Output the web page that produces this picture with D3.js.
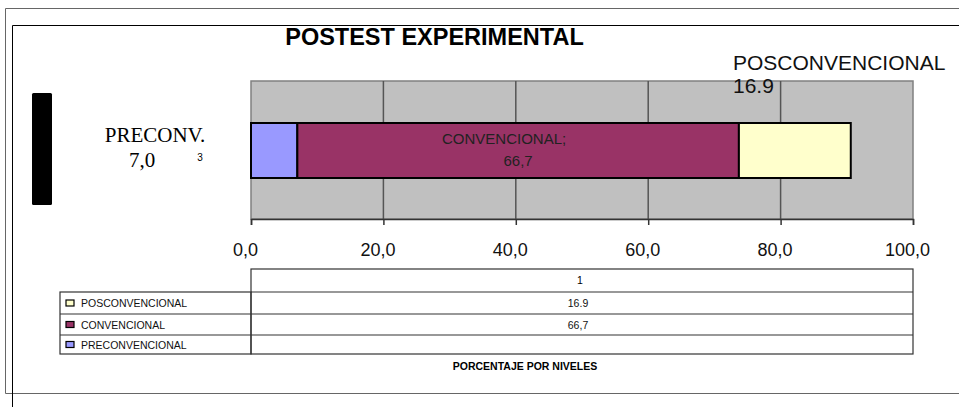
<!DOCTYPE html>
<html><head><meta charset="utf-8">
<script src="https://cdn.jsdelivr.net/npm/d3@7"></script>
<style>html,body{margin:0;padding:0;background:#fff;}svg{display:block;}</style>
</head><body><svg id="c" width="959" height="407"></svg>
<script>
const categories = ["PRECONVENCIONAL", "CONVENCIONAL", "POSCONVENCIONAL"];
const values = [7.0, 66.7, 16.9];
const colors = ["#9999FF", "#993366", "#FFFFCC"];
const tickValues = [0, 20, 40, 60, 80, 100];
const tableValues = ["", "66,7", "16.9"];
const tableHeader = "1";
const title = "POSTEST EXPERIMENTAL";
const axisTitle = "PORCENTAJE POR NIVELES";

const svg = d3.select("#c");
const fmt = d => d3.format(".1f")(d).replace(".", ",");

// frames
svg.append("path").attr("d","M959,8.5H5.5V393.5H959").attr("fill","none").attr("stroke","#666").attr("stroke-width",1);
svg.append("path").attr("d","M959,25.5H12.5V407").attr("fill","none").attr("stroke","#000").attr("stroke-width",1);

svg.append("text").attr("x",434.5).attr("y",45).attr("text-anchor","middle")
  .attr("font-family","Liberation Sans, Arial, sans-serif").attr("font-weight","bold").attr("font-size",23.5).text(title);

const x = d3.scaleLinear().domain([0,100]).range([251,913]);
const plotTop = 81, plotBot = 219;
svg.append("rect").attr("x",x(0)).attr("y",plotTop).attr("width",x(100)-x(0)).attr("height",plotBot-plotTop)
  .attr("fill","#C0C0C0").attr("stroke","#808080").attr("stroke-width",1.5);
svg.append("g").selectAll("line").data(tickValues.slice(1,-1)).join("line")
  .attr("x1",d=>x(d)).attr("x2",d=>x(d)).attr("y1",plotTop).attr("y2",plotBot)
  .attr("stroke","#555").attr("stroke-width",1.5);

const ax = svg.append("g").attr("transform",`translate(0,${plotBot})`)
  .call(d3.axisBottom(x).tickValues(tickValues).tickFormat(fmt).tickSize(6).tickPadding(18));
ax.select(".domain").attr("stroke","#333").attr("stroke-width",1.5);
ax.selectAll(".tick line").attr("stroke","#333").attr("stroke-width",1.5);
ax.selectAll(".tick text").attr("font-family","Liberation Sans, Arial, sans-serif").attr("font-size",18)
  .attr("fill","#111").attr("dx",-6);

// stacked bar
let cum = 0;
const segs = values.map((v,i)=>{const s={cat:categories[i],v,x0:cum,x1:cum+v,color:colors[i]};cum+=v;return s;});
const barTop = 123, barH = 55;
svg.append("g").selectAll("rect").data(segs).join("rect")
  .attr("x",d=>x(d.x0)).attr("y",barTop).attr("width",d=>x(d.x1)-x(d.x0)).attr("height",barH)
  .attr("fill",d=>d.color).attr("stroke","#000").attr("stroke-width",2);

// labels
const conv = segs[1];
const cmid = (x(conv.x0)+x(conv.x1))/2;
svg.append("text").attr("x",cmid-14).attr("y",144).attr("text-anchor","middle")
  .attr("font-family","Liberation Sans, Arial, sans-serif").attr("font-size",15).attr("fill","#222").text(conv.cat+";");
svg.append("text").attr("x",cmid).attr("y",166).attr("text-anchor","middle")
  .attr("font-family","Liberation Sans, Arial, sans-serif").attr("font-size",15).attr("fill","#222").text(fmt(conv.v));

svg.append("text").attr("x",155).attr("y",142).attr("text-anchor","middle")
  .attr("font-family","Liberation Serif, Times New Roman, serif").attr("font-size",21).text("PRECONV.");
svg.append("text").attr("x",142).attr("y",167).attr("text-anchor","middle")
  .attr("font-family","Liberation Serif, Times New Roman, serif").attr("font-size",21).text(fmt(values[0]));
svg.append("text").attr("x",200).attr("y",161).attr("text-anchor","middle")
  .attr("font-family","Liberation Sans, Arial, sans-serif").attr("font-size",10).text("3");

svg.append("text").attr("x",733).attr("y",70)
  .attr("font-family","Liberation Sans, Arial, sans-serif").attr("font-size",21).attr("fill","#111").text(categories[2]);
svg.append("text").attr("x",733).attr("y",93)
  .attr("font-family","Liberation Sans, Arial, sans-serif").attr("font-size",21).attr("fill","#111").text(String(values[2]));

// black block
svg.append("rect").attr("x",32).attr("y",93).attr("width",20).attr("height",112).attr("rx",1.5).attr("fill","#000");

// data table
const tTop = 269, rowH = [23,22,21,19];
const rowY = [tTop]; rowH.forEach((h,i)=>rowY.push(rowY[i]+h));
const tg = svg.append("g").attr("stroke","#333").attr("stroke-width",1.2).attr("fill","none");
tg.append("rect").attr("x",x(0)).attr("y",rowY[0]).attr("width",x(100)-x(0)).attr("height",rowY[4]-rowY[0]);
tg.append("rect").attr("x",60).attr("y",rowY[1]).attr("width",x(0)-60).attr("height",rowY[4]-rowY[1]);
[2,3].forEach(i=>tg.append("line").attr("x1",60).attr("x2",x(100)).attr("y1",rowY[i]).attr("y2",rowY[i]));
tg.append("line").attr("x1",x(0)).attr("x2",x(100)).attr("y1",rowY[1]).attr("y2",rowY[1]);

const tmid = (x(0)+x(100))/2;
svg.append("text").attr("x",tmid-2).attr("y",rowY[0]+15).attr("text-anchor","middle")
  .attr("font-family","Liberation Sans, Arial, sans-serif").attr("font-size",10.5).text(tableHeader);
const order = [2,1,0];
order.forEach((ci,r)=>{
  const y0 = rowY[r+1], h = rowY[r+2]-rowY[r+1];
  svg.append("rect").attr("x",66).attr("y",y0+h/2-3).attr("width",8).attr("height",6)
    .attr("fill",colors[ci]).attr("stroke","#000").attr("stroke-width",1.2);
  svg.append("text").attr("x",81).attr("y",y0+h/2+4).attr("font-family","Liberation Sans, Arial, sans-serif")
    .attr("font-size",10.5).attr("fill","#111").text(categories[ci]);
  svg.append("text").attr("x",tmid-4).attr("y",y0+h/2+4).attr("text-anchor","middle").attr("font-family","Liberation Sans, Arial, sans-serif")
    .attr("font-size",10.5).attr("fill","#111").text(tableValues[ci]);
});

svg.append("text").attr("x",525).attr("y",370).attr("text-anchor","middle")
  .attr("font-family","Liberation Sans, Arial, sans-serif").attr("font-weight","bold").attr("font-size",10.5).text(axisTitle);
</script></body></html>
